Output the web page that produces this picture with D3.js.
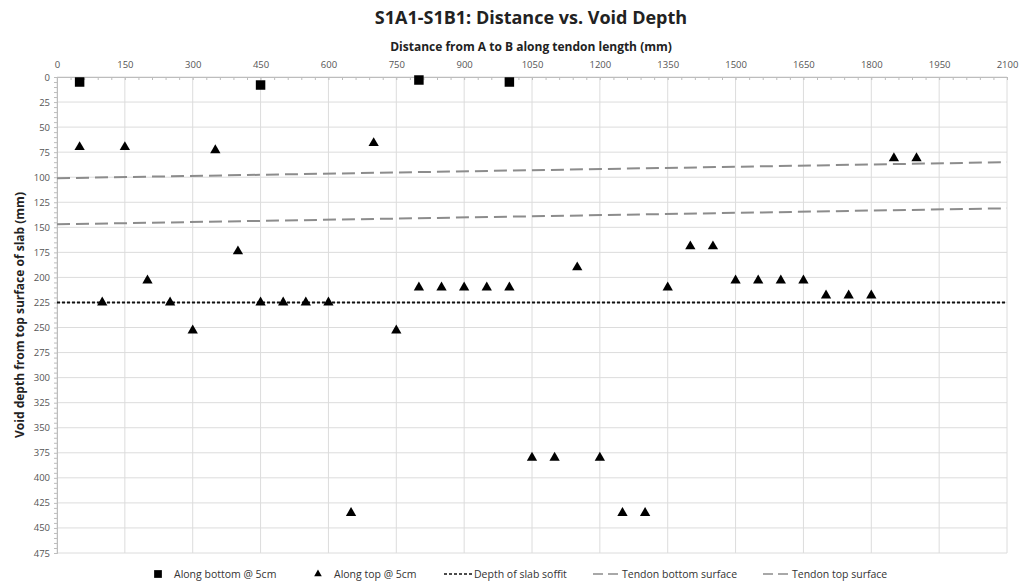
<!DOCTYPE html>
<html>
<head>
<meta charset="utf-8">
<script src="https://cdn.jsdelivr.net/npm/d3@7"></script>
<style>
  body { margin: 0; background: #fff; }
  text { font-family: "Open Sans", "Noto Sans", sans-serif; }
</style>
</head>
<body>
<div id="chart"></div>
<script>
// data
var bottomX = [50, 450, 800, 1000];
var bottomY = [5, 8, 3, 5];

var topX = [50, 100, 150, 200, 250, 300, 350, 400, 450, 500, 550, 600, 650, 700, 750,
            800, 850, 900, 950, 1000, 1050, 1100, 1150, 1200, 1250, 1300, 1350, 1400,
            1450, 1500, 1550, 1600, 1650, 1700, 1750, 1800, 1850, 1900];
var topY = [70, 225, 70, 203, 225, 253, 73, 174, 225, 225, 225, 225, 435, 66, 253,
            210, 210, 210, 210, 210, 380, 380, 190, 380, 435, 435, 210, 169,
            169, 203, 203, 203, 203, 218, 218, 218, 81, 81];

var soffitX = [0, 2100];
var soffitY = [225, 225];
var tendonBottomX = [0, 2100];
var tendonBottomY = [147, 131];
var tendonTopX = [0, 2100];
var tendonTopY = [101, 85];

var xTicks = d3.range(0, 2101, 150);
var yTicks = d3.range(0, 476, 25);

var legendNames = ["Along bottom @ 5cm", "Along top @ 5cm", "Depth of slab soffit",
                   "Tendon bottom surface", "Tendon top surface"];

// dimensions
var width = 1024;
var height = 588;
var margin = {top: 77, left: 57, right: 17, bottom: 35};

var svg = d3.select("#chart")
    .append("svg")
    .attr("width", width)
    .attr("height", height);

var x = d3.scaleLinear()
    .domain([0, 2100])
    .range([margin.left, width - margin.right]);

var y = d3.scaleLinear()
    .domain([0, 475])
    .range([margin.top, height - margin.bottom]);

// grid
svg.append("g").selectAll("line")
    .data(yTicks)
    .enter()
    .append("line")
    .attr("x1", x(0)).attr("x2", x(2100))
    .attr("y1", function (d) { return y(d); })
    .attr("y2", function (d) { return y(d); })
    .style("stroke", "#dcdcdc")
    .style("stroke-width", "1px");

svg.append("g").selectAll("line")
    .data(xTicks)
    .enter()
    .append("line")
    .attr("y1", y(0)).attr("y2", y(475))
    .attr("x1", function (d) { return x(d); })
    .attr("x2", function (d) { return x(d); })
    .style("stroke", "#dcdcdc")
    .style("stroke-width", "1px");

// axes
var xAxis = svg.append("g")
    .attr("transform", "translate(0," + y(0) + ")")
    .call(d3.axisTop(x).tickValues(xTicks).tickSize(0).tickPadding(9).tickFormat(d3.format("d")));

var xMinor = svg.append("g")
    .attr("transform", "translate(0," + y(0) + ")")
    .call(d3.axisBottom(x).tickValues(d3.range(0, 2101, 30)).tickSize(3).tickFormat(""));

var yAxis = svg.append("g")
    .attr("transform", "translate(" + x(0) + ",0)")
    .call(d3.axisLeft(y).tickValues(yTicks).tickSize(0).tickPadding(7));

var yMinor = svg.append("g")
    .attr("transform", "translate(" + x(0) + ",0)")
    .call(d3.axisLeft(y).tickValues(d3.range(0, 476, 5)).tickSize(3).tickFormat(""));

[xAxis, xMinor, yAxis, yMinor].forEach(function (a) {
    a.select(".domain").style("stroke", "#bdbdbd");
    a.selectAll(".tick line").style("stroke", "#bdbdbd");
    a.selectAll(".tick text")
        .style("font-size", "9.5px")
        .style("fill", "#555");
});

// titles
svg.append("text")
    .attr("x", 531)
    .attr("y", 24)
    .attr("text-anchor", "middle")
    .style("font-size", "18px")
    .style("font-weight", 700)
    .style("fill", "#222")
    .text("S1A1-S1B1: Distance vs. Void Depth");

svg.append("text")
    .attr("x", 531)
    .attr("y", 51)
    .attr("text-anchor", "middle")
    .style("font-size", "12px")
    .style("font-weight", 700)
    .style("fill", "#222")
    .text("Distance from A to B along tendon length (mm)");

svg.append("text")
    .attr("transform", "translate(24," + ((y(0) + y(475)) / 2) + ") rotate(-90)")
    .attr("text-anchor", "middle")
    .style("font-size", "12px")
    .style("font-weight", 700)
    .style("fill", "#222")
    .text("Void depth from top surface of slab (mm)");

// lines
function drawLine(xs, ys, color, dash, w) {
    var pts = xs.map(function (d, i) { return [x(d), y(ys[i])]; });
    svg.append("path")
        .attr("d", d3.line()(pts))
        .style("fill", "none")
        .style("stroke", color)
        .style("stroke-width", w)
        .style("stroke-dasharray", dash);
}

drawLine(tendonBottomX, tendonBottomY, "#8c8c8c", "13,6", "2px");
drawLine(tendonTopX, tendonTopY, "#8c8c8c", "13,6", "2px");
drawLine(soffitX, soffitY, "#111", "3,2", "2px");

// points
var square = d3.symbol().type(d3.symbolSquare).size(90);
var tri = d3.symbol().type(d3.symbolTriangle).size(46);

svg.append("g").selectAll("path")
    .data(bottomX)
    .enter()
    .append("path")
    .attr("d", square)
    .attr("transform", function (d, i) {
        return "translate(" + x(d) + "," + y(bottomY[i]) + ")";
    })
    .style("fill", "#000");

svg.append("g").selectAll("path")
    .data(topX)
    .enter()
    .append("path")
    .attr("d", tri)
    .attr("transform", function (d, i) {
        return "translate(" + x(d) + "," + y(topY[i]) + ")";
    })
    .style("fill", "#000");

// legend
var legY = 575;
var legX = [158, 318, 444, 593, 763];
var legend = svg.append("g");

legend.append("path")
    .attr("d", d3.symbol().type(d3.symbolSquare).size(60))
    .attr("transform", "translate(" + legX[0] + "," + (legY - 1) + ")")
    .style("fill", "#000");
legend.append("path")
    .attr("d", d3.symbol().type(d3.symbolTriangle).size(25))
    .attr("transform", "translate(" + legX[1] + "," + (legY - 1) + ")")
    .style("fill", "#000");
legend.append("line")
    .attr("x1", legX[2]).attr("x2", legX[2] + 28)
    .attr("y1", legY - 1).attr("y2", legY - 1)
    .style("stroke", "#111").style("stroke-width", "1.5px")
    .style("stroke-dasharray", "3,2");
[3, 4].forEach(function (k) {
    legend.append("line")
        .attr("x1", legX[k]).attr("x2", legX[k] + 29)
        .attr("y1", legY - 1).attr("y2", legY - 1)
        .style("stroke", "#8c8c8c").style("stroke-width", "1.5px")
        .style("stroke-dasharray", "10,5");
});

var textX = [174, 334, 474, 622, 792];
legend.selectAll("text")
    .data(legendNames)
    .enter()
    .append("text")
    .attr("x", function (d, i) { return textX[i]; })
    .attr("y", legY + 3)
    .style("font-size", "10.5px")
    .style("fill", "#333")
    .text(function (d) { return d; });
</script>
</body>
</html>
